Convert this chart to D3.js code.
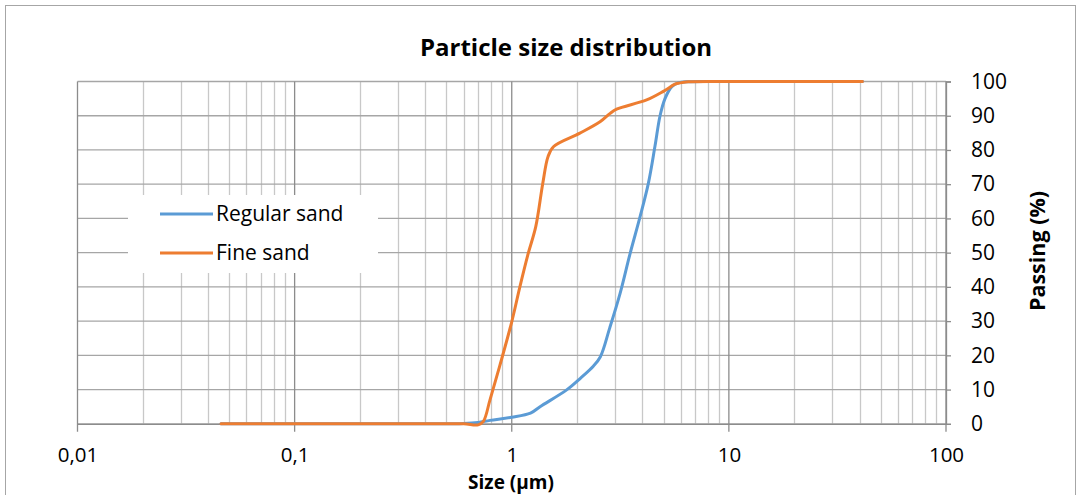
<!DOCTYPE html>
<html><head><meta charset="utf-8">
<script src="https://cdn.jsdelivr.net/npm/d3@7"></script>
<style>body{margin:0;background:#fff}svg{display:block}text{font-family:"Open Sans",sans-serif;fill:#000}</style>
</head><body><svg id="c" width="1081" height="495"></svg>
<script>
const title = "Particle size distribution";
const xTitle = "Size (µm)";
const yTitle = "Passing (%)";
const seriesNames = ["Regular sand", "Fine sand"];
const xTickValues = [0.01, 0.1, 1, 10, 100];
const xTickLabels = ["0,01", "0,1", "1", "10", "100"];
const yTickValues = [0, 10, 20, 30, 40, 50, 60, 70, 80, 90, 100];

const regularSize = [0.0458, 0.1, 0.2, 0.4, 0.6, 0.7, 0.794, 1.0, 1.22, 1.35, 1.79, 2.07, 2.38, 2.56, 2.82, 3.155, 3.51, 3.90, 4.26, 4.57, 4.82, 5.08, 5.46, 5.85, 6.5, 10, 41.2];
const regularPass = [0, 0, 0, 0, 0.1, 0.4, 1.0, 1.9, 3.1, 5.0, 9.9, 13.3, 16.9, 19.6, 27.8, 38.1, 49.8, 60.5, 70.3, 81.2, 90, 95, 98.5, 99.6, 99.95, 100, 100];
const fineSize = [0.0458, 0.1, 0.2, 0.4, 0.6, 0.70, 0.74, 0.794, 0.883, 1.0, 1.09, 1.19, 1.29, 1.39, 1.47, 1.56, 2.06, 2.56, 2.84, 3.04, 4.18, 4.99, 5.65, 5.96, 6.5, 10, 41.2];
const finePass = [0, 0, 0, 0, 0, -0.3, 0.7, 7, 17.2, 29.8, 40, 49.7, 57.6, 70.3, 78.1, 81, 84.9, 88.3, 90.7, 91.9, 94.6, 97.1, 99.2, 99.6, 99.9, 100, 100];

const colors = ["#5B9BD5", "#ED7D31"];
const svg = d3.select("#c");
const L = 77.5, R = 946, T = 81.5, B = 423.8;
const x = d3.scaleLog().domain([0.01, 100]).range([L, R]);
const y = d3.scaleLinear().domain([0, 100]).range([B, T]);

// outer border
svg.append("rect").attr("x", 5.5).attr("y", 5.5).attr("width", 1070).attr("height", 500)
  .attr("fill", "#fff").attr("stroke", "#a6a6a6").attr("stroke-width", 1);

// minor vertical gridlines
const minor = [];
for (let d = -2; d < 2; d++) for (let m = 2; m <= 9; m++) minor.push(m * Math.pow(10, d));
svg.append("g").selectAll("line").data(minor).join("line")
  .attr("x1", d => Math.round(x(d)) + 0.5).attr("x2", d => Math.round(x(d)) + 0.5)
  .attr("y1", T).attr("y2", B).attr("stroke", "#c8c8c8").attr("stroke-width", 1.3);
// horizontal gridlines
svg.append("g").selectAll("line").data(yTickValues).join("line")
  .attr("x1", L).attr("x2", R).attr("y1", d => y(d)).attr("y2", d => y(d))
  .attr("stroke", "#a6a6a6").attr("stroke-width", 1.3);
// major vertical gridlines
svg.append("g").selectAll("line").data(xTickValues).join("line")
  .attr("x1", d => x(d)).attr("x2", d => x(d))
  .attr("y1", T).attr("y2", B + 8).attr("stroke", "#8c8c8c").attr("stroke-width", 1.3);

// right axis
const yAxis = d3.axisRight(y).tickValues(yTickValues).tickSize(5).tickPadding(20).tickFormat(d3.format("d"));
const gy = svg.append("g").attr("transform", `translate(${R},0)`).call(yAxis);
gy.select(".domain").attr("stroke", "#8c8c8c").attr("stroke-width", 1.3);
gy.selectAll(".tick line").attr("stroke", "#8c8c8c").attr("stroke-width", 1.3);
gy.selectAll("text").style("font-size", "21px").attr("fill", "#000");

// bottom axis labels
const gx = svg.append("g").attr("transform", `translate(0,${B})`)
  .call(d3.axisBottom(x).tickValues(xTickValues).tickSize(0).tickPadding(24).tickFormat((d, i) => xTickLabels[i]));
gx.select(".domain").attr("stroke", "#8c8c8c").attr("stroke-width", 1.3);
gx.selectAll("text").style("font-size", "20.5px").attr("fill", "#000");

// lines
const line = d3.line().x(d => x(d[0])).y(d => y(d[1])).curve(d3.curveCatmullRom.alpha(0.5));
const series = [d3.zip(regularSize, regularPass), d3.zip(fineSize, finePass)];
svg.append("g").selectAll("path").data(series).join("path")
  .attr("d", line).attr("fill", "none").attr("stroke", (d, i) => colors[i])
  .attr("stroke-width", 3).attr("stroke-linejoin", "round").attr("stroke-linecap", "round");

// legend
const lg = svg.append("g");
lg.append("rect").attr("x", 128).attr("y", 195).attr("width", 250).attr("height", 78).attr("fill", "#fff");
seriesNames.forEach((n, i) => {
  const cy = 214 + i * 39;
  lg.append("line").attr("x1", 160).attr("x2", 213).attr("y1", cy).attr("y2", cy)
    .attr("stroke", colors[i]).attr("stroke-width", 3);
  lg.append("text").attr("x", 216).attr("y", cy).attr("dy", "0.35em").style("font-size", "21px").text(n);
});

// titles
svg.append("text").attr("x", 566).attr("y", 56).attr("text-anchor", "middle")
  .style("font-size", "24px").style("font-weight", "bold").text(title);
svg.append("text").attr("x", 511).attr("y", 489).attr("text-anchor", "middle")
  .style("font-size", "19px").style("font-weight", "bold").text(xTitle);
svg.append("text").attr("transform", "translate(1045,251) rotate(-90)").attr("text-anchor", "middle")
  .style("font-size", "21.5px").style("font-weight", "bold").text(yTitle);
</script></body></html>
